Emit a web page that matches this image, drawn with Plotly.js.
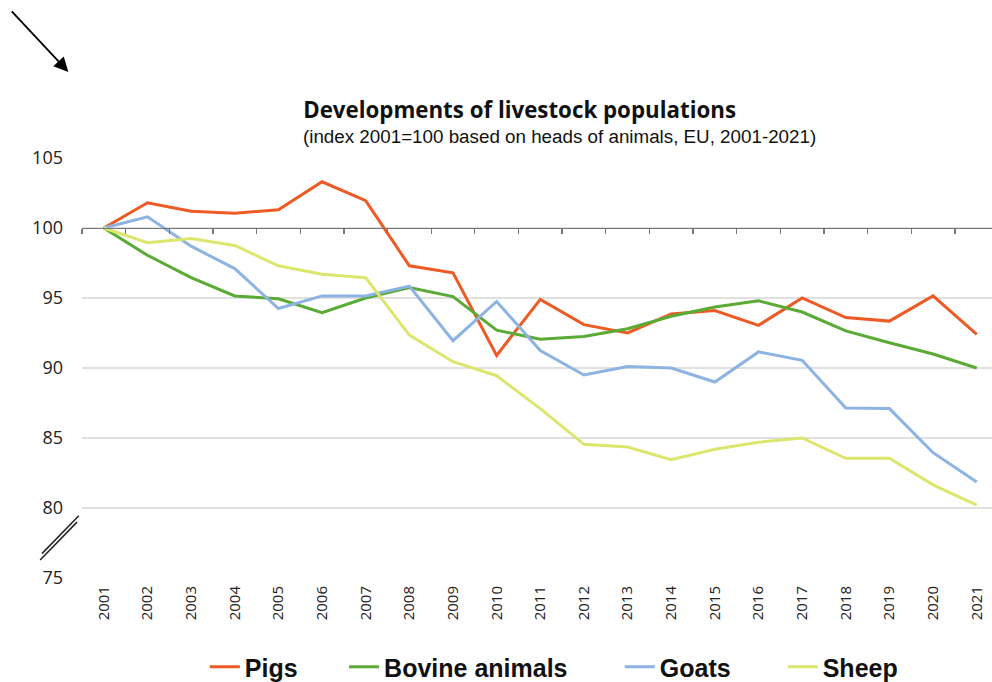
<!DOCTYPE html>
<html>
<head>
<meta charset="utf-8">
<script src="https://cdn.plot.ly/plotly-3.0.1.min.js"></script>
<style>
html,body{margin:0;padding:0;background:#fff;}
#chart{width:992px;height:682px;}
</style>
</head>
<body>
<div id="chart"></div>
<script>
const years = ['2001','2002','2003','2004','2005','2006','2007','2008','2009','2010','2011','2012','2013','2014','2015','2016','2017','2018','2019','2020','2021'];
const pigs   = [100, 101.8, 101.2, 101.05, 101.3, 103.3, 101.95, 97.3, 96.8, 90.9, 94.9, 93.1, 92.5, 93.85, 94.1, 93.05, 95.0, 93.6, 93.35, 95.15, 92.4];
const bovine = [100, 98.05, 96.45, 95.15, 94.95, 93.95, 95.0, 95.75, 95.1, 92.7, 92.05, 92.25, 92.8, 93.7, 94.35, 94.8, 94.0, 92.65, 91.8, 91.0, 90.0];
const goats  = [100, 100.8, 98.7, 97.1, 94.25, 95.15, 95.15, 95.85, 91.95, 94.75, 91.25, 89.5, 90.1, 90.0, 89.0, 91.15, 90.55, 87.15, 87.1, 83.95, 81.85];
const sheep  = [100, 98.95, 99.25, 98.75, 97.3, 96.7, 96.45, 92.35, 90.45, 89.45, 87.1, 84.55, 84.35, 83.45, 84.2, 84.7, 85.0, 83.55, 83.55, 81.65, 80.2];
const seriesNames = ['Pigs', 'Bovine animals', 'Goats', 'Sheep'];
const seriesColors = ['#ee5a24', '#5aab35', '#8db3e2', '#dce66c'];
const yTicks = [75, 80, 85, 90, 95, 100, 105];
const axisCross = 100;
const titleText = 'Developments of livestock populations';
const subtitleText = '(index 2001=100 based on heads of animals, EU, 2001-2021)';

const idx = years.map((_, i) => i);
const allSeries = [pigs, bovine, goats, sheep];
const legendIds = ['legend', 'legend2', 'legend3', 'legend4'];
const legendX = [0.135, 0.288, 0.591, 0.770];
const traces = allSeries.map((vals, k) => ({
  x: idx, y: vals, type: 'scatter', mode: 'lines', name: seriesNames[k],
  legend: legendIds[k],
  line: {color: seriesColors[k], width: 3}, hoverinfo: 'skip'
}));
// helper trace for the crossing axis at 100
traces.push({x: [idx[0]], y: [axisCross], xaxis: 'x2', yaxis: 'y', mode: 'markers',
  marker: {opacity: 0}, showlegend: false, hoverinfo: 'skip'});

const yMin = 75, yMax = 105;
const xRange = [-0.5, 20.35];
const legendFont = {family: 'Liberation Sans, Arial, sans-serif', size: 25, color: '#111', weight: 'bold'};

const layout = {
  width: 992, height: 682,
  margin: {l: 82, r: 0, t: 158, b: 104, autoexpand: false},
  paper_bgcolor: '#fff', plot_bgcolor: '#fff',
  showlegend: true,
  title: {
    text: '<b>' + titleText + '</b>',
    font: {family: 'Open Sans, sans-serif', size: 22.3, color: '#111'},
    xref: 'paper', x: 0.243, xanchor: 'left', yref: 'container', y: 1 - 110 / 682, yanchor: 'middle'
  },
  xaxis: {
    range: xRange, tickvals: idx, ticktext: years, tickangle: -90,
    showgrid: false, zeroline: false, showline: false, ticks: '',
    tickfont: {family: 'Open Sans, sans-serif', size: 15, color: '#222'},
    ticklabelstandoff: 4, fixedrange: true
  },
  xaxis2: {
    overlaying: 'x', anchor: 'free', position: (axisCross - yMin) / (yMax - yMin),
    range: xRange, tickvals: idx.map(i => i - 0.5), showticklabels: false,
    ticks: 'outside', ticklen: 5, tickwidth: 1.3, tickcolor: '#777',
    showline: true, linecolor: '#777', linewidth: 1.3, showgrid: false, zeroline: false
  },
  yaxis: {
    range: [yMin, yMax], tickvals: yTicks, ticktext: yTicks.map(String),
    showgrid: true, gridcolor: '#e0e0e0', gridwidth: 1.3, zeroline: false, showline: false,
    ticks: '', tickfont: {family: 'Open Sans, sans-serif', size: 18, color: '#222'},
    ticklabelstandoff: 18, fixedrange: true
  },
  shapes: [
    {type: 'line', xref: 'paper', yref: 'paper', x0: -0.046, x1: -0.0055, y0: 0.043, y1: 0.133, line: {color: '#222', width: 1.5}},
    {type: 'line', xref: 'paper', yref: 'paper', x0: -0.044, x1: -0.0035, y0: 0.058, y1: 0.148, line: {color: '#222', width: 1.5}}
  ],
  annotations: [
    {xref: 'paper', yref: 'paper', x: 0.241, xanchor: 'left', y: (578 - 136) / 420 , yanchor: 'middle',
     text: subtitleText, showarrow: false,
     font: {family: 'Liberation Sans, Arial, sans-serif', size: 18.8, color: '#111'}},
    {xref: 'paper', yref: 'paper', x: -0.015, y: 1.205, text: '', showarrow: true,
     axref: 'pixel', ayref: 'pixel', ax: -58, ay: -62, arrowhead: 2, arrowsize: 1.6, arrowwidth: 1.8, arrowcolor: '#000'}
  ]
};
legendIds.forEach((id, k) => {
  layout[id] = {orientation: 'h', x: legendX[k], xanchor: 'left', y: -0.212, yanchor: 'middle',
    font: legendFont, bgcolor: 'rgba(0,0,0,0)'};
});
Plotly.newPlot('chart', traces, layout, {displayModeBar: false, staticPlot: true});
</script>
</body>
</html>
